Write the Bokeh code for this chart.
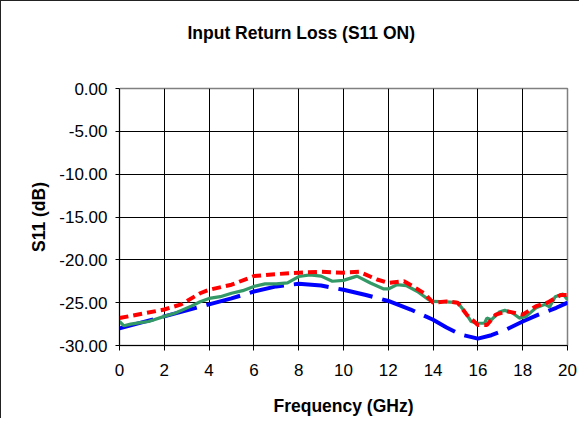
from bokeh.plotting import figure
from bokeh.models import NumeralTickFormatter, FixedTicker, Range1d, LinearAxis
from bokeh.embed import file_html
from bokeh.resources import INLINE

title_text = "Input Return Loss (S11 ON)"
x_label = "Frequency (GHz)"
y_label = "S11 (dB)"

x_ticks = [0, 2, 4, 6, 8, 10, 12, 14, 16, 18, 20]
y_ticks = [-30, -25, -20, -15, -10, -5, 0]

blue_x = [0, 1, 2, 3, 4, 5, 6, 7, 8, 9, 10, 11, 12, 13, 14, 14.6, 15.2, 16, 16.6, 17.3, 18, 18.7, 19.5, 20]
blue_y = [-28.0, -27.3, -26.6, -25.9, -25.2, -24.5, -23.7, -23.1, -22.8, -23.0, -23.5, -24.1, -24.8, -25.8,
          -27.0, -27.9, -28.7, -29.2, -28.8, -28.1, -27.2, -26.4, -25.6, -25.0]

red_x = [0, 1, 2, 2.75, 3.6, 4, 5, 6, 6.8, 8, 9, 10, 10.7, 11.5, 12, 12.7, 13.1, 13.6, 14, 14.6, 15.1,
         15.5, 16, 16.4, 16.8, 17.3, 18, 18.6, 19.1, 19.7, 20]
red_y = [-26.8, -26.3, -25.8, -25.2, -23.9, -23.5, -22.9, -21.9, -21.7, -21.5, -21.4, -21.5, -21.4, -22.3,
         -22.7, -22.5, -23.1, -23.9, -25.0, -24.85, -25.0, -26.4, -27.6, -27.6, -26.4, -26.0, -26.4, -25.4,
         -25.0, -24.1, -24.1]

green_x = [0, 0.2, 0.5, 1, 1.3, 2, 2.5, 3.2, 3.6, 4, 4.5, 5, 5.5, 6, 6.5, 7, 7.5, 8, 8.5, 9, 9.5, 10, 10.6,
           11.2, 11.8, 12, 12.4, 12.8, 13.3, 13.8, 14, 14.6, 15.1, 15.4, 15.7, 16, 16.3, 16.4, 16.6, 16.95,
           17.2, 17.55, 17.85, 18.15, 18.6, 19.0, 19.2, 19.45, 19.8, 20]
green_y = [-27.2, -27.7, -27.5, -27.3, -27.2, -26.6, -26.2, -25.4, -24.9, -24.5, -24.3, -23.9, -23.6, -23.1,
           -22.8, -22.8, -22.7, -21.95, -21.75, -21.9, -22.5, -22.4, -21.9, -22.7, -23.4, -23.4, -22.9, -23.0,
           -23.7, -24.65, -24.85, -24.9, -25.0, -26.0, -27.2, -27.4, -27.4, -26.8, -27.0, -26.1, -25.9, -26.2,
           -26.8, -26.6, -25.6, -25.2, -25.5, -24.3, -24.0, -24.65]

FONT = "Liberation Sans"

p = figure(width=579, height=418, output_backend="svg", toolbar_location=None,
           x_range=Range1d(0, 20), y_range=Range1d(-30, 0),
           min_border_left=118, min_border_right=13, min_border_top=87, min_border_bottom=74)

p.styles = {"border-left": "1px solid #222222", "border-top": "1px solid #222222"}

xax = p.below[0]
yax = p.left[0]

# invisible spacer axis above the frame (white tick on white, empty label), so the title sits higher
spacer = LinearAxis(ticker=FixedTicker(ticks=[0]), axis_line_color=None, major_tick_line_color="white",
                    minor_tick_line_color=None, major_tick_out=41, major_tick_in=0, minor_tick_out=0,
                    major_label_standoff=0, major_label_overrides={0: ""})
p.add_layout(spacer, "above")

p.title.text = title_text
p.title.text_font = FONT
p.title.text_font_size = "17.5px"
p.title.text_font_style = "bold"
p.title.text_color = "black"
p.title.align = "left"
p.title.offset = 68
p.title.standoff = 10

p.outline_line_color = "#808080"
p.outline_line_width = 1.5

for ax in (xax, yax):
    ax.axis_line_color = "black"
    ax.major_tick_line_color = "black"
    ax.minor_tick_line_color = None
    ax.major_tick_in = 0
    ax.major_label_text_font = FONT
    ax.major_label_text_font_size = "17px"
    ax.major_label_text_color = "black"
    ax.axis_label_text_font = FONT
    ax.axis_label_text_font_size = "17.5px"
    ax.axis_label_text_font_style = "bold"
    ax.axis_label_text_color = "black"

xax.ticker = FixedTicker(ticks=x_ticks)
yax.ticker = FixedTicker(ticks=y_ticks)
yax.formatter = NumeralTickFormatter(format="0.00")
xax.major_tick_out = 5
yax.major_tick_out = 4
xax.major_label_standoff = 13
yax.major_label_standoff = 8
xax.axis_label = x_label
yax.axis_label = y_label
xax.axis_label_standoff = 17
yax.axis_label_standoff = 7

p.xgrid.ticker = FixedTicker(ticks=x_ticks)
p.ygrid.ticker = FixedTicker(ticks=y_ticks)
p.xgrid.grid_line_color = "black"
p.ygrid.grid_line_color = "black"
p.xgrid.grid_line_width = 1
p.ygrid.grid_line_width = 1

p.line(blue_x, blue_y, line_color="#0000FF", line_width=4, line_dash="35 10")
p.line(green_x, green_y, line_color="#339966", line_width=3.2)
p.line(red_x, red_y, line_color="#FF0000", line_width=4, line_dash="9 5")

open("out.html", "w").write(file_html(p, INLINE))
